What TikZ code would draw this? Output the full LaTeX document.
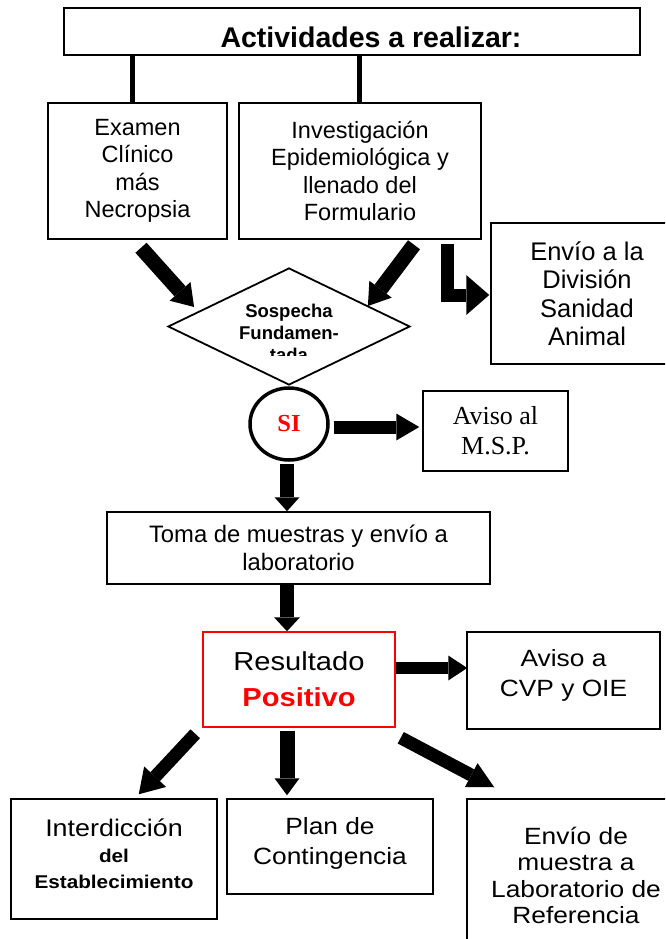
\documentclass[tikz,border=0pt]{standalone}
\usepackage{fontspec}
\setmainfont{Liberation Sans}
\newfontfamily\widef{Liberation Sans}[FakeStretch=1.12]
\newfontfamily\timesf{Liberation Serif}
\usetikzlibrary{arrows.meta,shapes.geometric,calc}
\definecolor{pred}{RGB}{255,0,0}
\tikzset{
 box/.style={draw, line width=1.5pt, inner sep=0pt, align=center},
 blk/.style n args={3}{line width=#1pt, -{Triangle[line width=0pt,length=#2pt,width=#3pt]}},
 stem/.style={line width=5pt},
 fmain/.style={font=\fontsize{23.5pt}{27.5pt}\selectfont},
}
\begin{document}
\begin{tikzpicture}[x=1pt,y=-1pt]
\useasboundingbox (0,0) rectangle (665,939);
\clip (0,0) rectangle (665,939);
% top
\node[box, line width=2pt, minimum width=576pt, minimum height=47pt] (top) at (352,31.5) {};
\node[font=\bfseries\fontsize{28.5pt}{32pt}\selectfont, inner sep=0pt] (toptxt) at (371,37) {Actividades a realizar:};
% second row
\node[box, fmain, minimum width=179pt, minimum height=136pt] (ex) at (137.5,171) {Examen\\Clínico\\más\\Necropsia};
\node[box, fmain, minimum width=242pt, minimum height=136pt] (inv) at (360,171) {Investigación\\Epidemiológica y\\llenado del\\Formulario};
\node[box, minimum width=192pt, minimum height=141pt, font=\fontsize{25.5pt}{28.5pt}\selectfont] (env) at (587,293.5) {Envío a la\\División\\Sanidad\\Animal};
% diamond
\node[draw, diamond, line width=1.8pt, minimum width=242pt, minimum height=117pt, inner sep=0pt] (dm) at (289,326.5) {};
\begin{scope}
\clip (160,290) rectangle (420,355.5);
\node[font=\bfseries\fontsize{18.5pt}{22pt}\selectfont, align=center, inner sep=0pt] (dmtxt) at (289,332.5) {Sospecha\\Fundamen-\\tada};
\end{scope}
% SI
\node[draw, ellipse, line width=3.5pt, minimum width=78pt, minimum height=72pt, inner sep=0pt, text=pred, font=\timesf\bfseries\fontsize{24.5pt}{28pt}\selectfont] (si) at (289,424) {SI};
\node[box, minimum width=145pt, minimum height=80pt, font=\timesf\fontsize{26pt}{30pt}\selectfont] (msp) at (495.5,431) {Aviso al\\M.S.P.};
% toma
\node[box, minimum width=383pt, minimum height=72pt, font=\fontsize{23.8pt}{28pt}\selectfont] (toma) at (298.5,548) {Toma de muestras y envío a\\laboratorio};
% resultado
\node[box, draw=pred, minimum width=192pt, minimum height=95pt, font=\widef\fontsize{26pt}{30pt}\selectfont] (res) at (299,679.5) {Resultado\\[6pt]\textcolor{pred}{\bfseries Positivo}};
\node[box, minimum width=193pt, minimum height=97pt] (cvp) at (563.5,680.5) {};
\node[align=center, inner sep=0pt, font=\widef\fontsize{23.5pt}{30pt}\selectfont] (cvptxt) at (563.5,675.5) {Aviso a\\CVP y OIE};
% bottom row
\node[box, minimum width=206pt, minimum height=120pt] (int) at (114,859) {};
\node[align=center, inner sep=0pt, font=\widef\bfseries\fontsize{18.5pt}{26pt}\selectfont] (inttxt) at (114,854) {{\mdseries\fontsize{24pt}{26pt}\selectfont Interdicción}\\del\\Establecimiento};
\node[box, minimum width=206pt, minimum height=95pt] (plan) at (330,846.5) {};
\node[align=center, inner sep=0pt, font=\widef\fontsize{23.5pt}{30pt}\selectfont] (plantxt) at (330,843.5) {Plan de\\Contingencia};
\node[box, minimum width=218pt, minimum height=161pt] (envm) at (576,879.5) {};
\node[align=center, inner sep=0pt, font=\widef\fontsize{23.5pt}{26.5pt}\selectfont] (envmtxt) at (576,875.5) {Envío de\\muestra a\\Laboratorio de\\Referencia};
% connectors
\draw[stem] ($(ex.north)+(-5.5,0)$) -- ($(ex.north |- top.south)+(-5.5,0)$);
\draw[stem] ($(inv.north)+(-1,0)$) -- ($(inv.north |- top.south)+(-1,0)$);
\draw[blk={15}{21}{28}] ($(ex.south)+(3.5,8)$) -- ($(dm.west)+(27,-19.5)$);
\draw[blk={15}{21}{28}] ($(inv.south)+(54,5)$) -- ($(dm.east)+(-43,-20.5)$);
\draw[blk={13}{23}{40}, line join=miter] ($(inv.south east)+(-34,4)$) |- ($(env.west)+(-1,1.5)$);
\draw[blk={13}{23}{27}] ($(si.east)+(4,3)$) -- ($(msp.west)+(-3,-4)$);
\draw[blk={14}{14}{25}] ($(si.south)+(-2,2)$) -- ($(si.south |- toma.north)+(-2,0)$);
\draw[blk={14}{14}{26}] ($(toma.south)+(-11.5,0)$) -- ($(toma.south |- res.north)+(-11.5,0)$);
\draw[blk={12}{19}{25}] ($(res.east)+(0,-11.5)$) -- ($(cvp.west |- res.east)+(1,-11.5)$);
\draw[blk={15}{17}{25}] ($(res.south)+(-12,3)$) -- ($(res.south |- plan.north)+(-12,-3)$);
\draw[blk={13}{26}{27}] ($(res.south east)+(5,10)$) -- ($(envm.north west)+(28,-11)$);
\draw[blk={13}{24}{30}] ($(res.south west)+(-7,6)$) -- ($(int.north east)+(-79,-4)$);
\end{tikzpicture}
\end{document}
